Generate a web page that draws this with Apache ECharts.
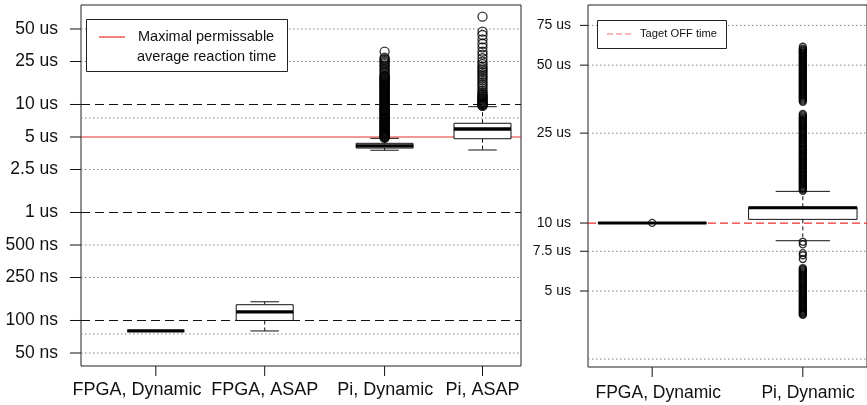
<!DOCTYPE html>
<html>
<head>
<meta charset="utf-8">
<script src="https://cdn.jsdelivr.net/npm/echarts@6/dist/echarts.min.js"></script>
<style>
  html, body { margin: 0; padding: 0; background: #fff; }
  #chart { width: 867px; height: 405px; }
</style>
</head>
<body>
<div id="chart"></div>
<script>
// Reaction times; every value is in microseconds.

// ---- Left panel: reaction time per implementation ----
const leftCategories = ['FPGA, Dynamic', 'FPGA, ASAP', 'Pi, Dynamic', 'Pi, ASAP'];
// [lower whisker, Q1, median, Q3, upper whisker]
const leftBoxes = [
  [0.080, 0.080, 0.080, 0.080, 0.080],
  [0.080, 0.100, 0.120, 0.140, 0.149],
  [3.77, 3.95, 4.13, 4.37, 4.86],
  [3.79, 4.82, 5.93, 6.70, 9.54]
];
const leftOutliers = [
  [],
  [],
  [30.8, 27.2, 26.5, 25.8, 25.0, 24.3, 23.6, 22.9, 22.2, 21.4, 20.7, 20.0, 19.3, 18.6,
   18.3, 18.0, 17.7, 17.4, 17.1, 16.8, 16.5, 16.2, 15.9, 15.6, 15.35, 15.1, 14.85, 14.6,
   14.35, 14.1, 13.85, 13.6, 13.35, 13.1, 12.85, 12.6, 12.4, 12.2, 12.0, 11.8, 11.6, 11.4,
   11.2, 11.0, 10.8, 10.6, 10.4, 10.2, 10.0, 9.8, 9.65, 9.5, 9.35, 9.2, 9.05, 8.9, 8.75,
   8.6, 8.45, 8.3, 8.15, 8.0, 7.85, 7.7, 7.55, 7.4, 7.3, 7.2, 7.05, 6.9, 6.8, 6.7, 6.6,
   6.5, 6.4, 6.3, 6.2, 6.1, 6.0, 5.9, 5.8, 5.7, 5.62, 5.55, 5.48, 5.4, 5.32, 5.25, 5.17,
   5.1, 5.04, 4.98, 4.9],
  [65.0, 47.2, 44.0, 40.0, 36.5, 33.8, 30.8, 28.9, 26.8, 24.9, 23.6, 22.4, 21.6, 20.8,
   20.0, 19.1, 18.4, 17.6, 16.9, 16.1, 15.4, 14.8, 14.1, 13.5, 13.0, 12.5, 12.25, 12.0,
   11.75, 11.5, 11.3, 11.1, 10.9, 10.7, 10.5, 10.3, 10.1, 9.95, 9.8, 9.7]
];
const leftTickValues = [50, 25, 10, 5, 2.5, 1, 0.5, 0.25, 0.1, 0.05];
const leftTickLabels = ['50 us', '25 us', '10 us', '5 us', '2.5 us', '1 us', '500 ns', '250 ns', '100 ns', '50 ns'];
const leftDashedValues = [10, 1, 0.1];
const leftDottedValues = [50, 25, 7.5, 2.5, 0.5, 0.25, 0.075, 0.05];
const maxReactionTime = 5;
const leftLegendLines = ['Maximal permissable', 'average reaction time'];

// ---- Right panel: OFF time ----
const rightCategories = ['FPGA, Dynamic', 'Pi, Dynamic'];
const rightBoxes = [
  [10.0, 10.0, 10.0, 10.0, 10.0],
  [8.35, 10.38, 11.68, 11.75, 13.81]
];
const rightOutliers = [
  [10.02],
  [60.3, 59.2, 58.6, 58.0, 57.5, 57.0, 56.5, 55.9, 55.4, 54.8, 54.3, 53.7, 53.2, 52.6,
   52.1, 51.5, 51.0, 50.5, 50.0, 49.5, 49.0, 48.5, 48.0, 47.5, 47.0, 46.5, 46.0, 45.5,
   45.1, 44.6, 44.2, 43.7, 43.3, 42.8, 42.4, 41.9, 41.5, 41.1, 40.7, 40.3, 39.9, 39.5,
   39.1, 38.7, 38.3, 37.9, 37.5, 37.1, 36.7, 36.3, 36.0, 35.6, 35.2, 34.8, 34.4,
   30.4, 30.0, 29.6, 29.2, 28.9, 28.6, 28.3, 28.0, 27.7, 27.4, 27.1, 26.8, 26.5, 26.2,
   25.9, 25.6, 25.3, 25.0, 24.8, 24.5, 24.2, 23.9, 23.7, 23.4, 23.2, 22.9, 22.7, 22.4,
   22.2, 21.9, 21.7, 21.4, 21.2, 21.0, 20.8, 20.5, 20.3, 20.1, 19.9, 19.7, 19.5, 19.3,
   19.1, 18.9, 18.7, 18.5, 18.3, 18.1, 17.9, 17.7, 17.5, 17.3, 17.1, 16.95, 16.8, 16.6,
   16.4, 16.25, 16.1, 15.9, 15.7, 15.55, 15.4, 15.25, 15.1, 14.95, 14.8, 14.65, 14.5,
   14.35, 14.2, 14.05, 13.9,
   8.26, 8.05, 7.36, 7.2, 6.93, 6.32, 6.25, 6.18, 6.11, 6.05, 5.98, 5.92, 5.85, 5.79,
   5.72, 5.66, 5.6, 5.54, 5.48, 5.42, 5.36, 5.30, 5.24, 5.18, 5.12, 5.07, 5.01, 4.96,
   4.9, 4.85, 4.79, 4.74, 4.69, 4.64, 4.59, 4.54, 4.49, 4.44, 4.39, 4.34, 4.3, 4.25,
   4.2, 4.16, 4.11, 4.07, 4.03, 3.99, 3.95, 3.92]
];
const rightTickValues = [75, 50, 25, 10, 7.5, 5];
const rightTickLabels = ['75 us', '50 us', '25 us', '10 us', '7.5 us', '5 us'];
const rightDottedValues = [75, 50, 25, 7.5, 5, 2.5];
const targetOffTime = 10;
const rightLegendText = 'Taget OFF time';

// ---- Layout and styling ----
const FONT = '"Liberation Sans", Arial, Helvetica, sans-serif';
const INK = '#111';
const RED = '#e8302b';
const DOTTED = { stroke: '#808080', lineWidth: 1, lineDash: [1.5, 2.5] };
const DASHED = { stroke: INK, lineWidth: 1.1, lineDash: [9, 5] };

const panels = [
  {
    grid: { left: 81, top: 5, width: 440, height: 361 },
    xRange: [0.5, 4.5], yRange: [0.0379, 83.4],
    slots: [1.18, 2.17, 3.26, 4.15], labelSlots: [1.01, 2.17, 3.265, 4.15],
    halfWidth: 0.259, symbolSize: 9, medianWidth: 3.3,
    yFont: 17.5, xFont: 18, tickLen: 11, labelGap: 23, xLabelDy: 24
  },
  {
    grid: { left: 588, top: 5, width: 288, height: 362 },
    xRange: [0.574, 2.426], yRange: [2.305, 92.3],
    slots: [1, 2], labelSlots: [1.04, 2.035],
    halfWidth: 0.36, symbolSize: 7, medianWidth: 3,
    yFont: 14, xFont: 17.5, tickLen: 8, labelGap: 17, xLabelDy: 26
  }
];

function axisPair(p, i) {
  return {
    x: {
      type: 'value', gridIndex: i, min: p.xRange[0], max: p.xRange[1],
      axisLine: { show: false }, axisTick: { show: false },
      axisLabel: { show: false }, splitLine: { show: false }
    },
    y: {
      type: 'log', logBase: 10, gridIndex: i, min: p.yRange[0], max: p.yRange[1],
      axisLine: { show: false }, axisTick: { show: false },
      axisLabel: { show: false }, splitLine: { show: false }
    }
  };
}

// Horizontal reference lines spanning the whole plotting area
function hLines(i, values, style, z) {
  const p = panels[i];
  return {
    type: 'custom', xAxisIndex: i, yAxisIndex: i, z, silent: true,
    data: values.map(v => [p.xRange[0], v]),
    renderItem(params, api) {
      const cs = params.coordSys;
      const y = api.coord([api.value(0), api.value(1)])[1];
      return { type: 'line', shape: { x1: cs.x, y1: y, x2: cs.x + cs.width, y2: y }, style };
    }
  };
}

// Y tick marks with their labels
function yTicks(i, values, labels) {
  const p = panels[i];
  return {
    type: 'custom', xAxisIndex: i, yAxisIndex: i, z: 6, silent: true,
    data: values.map(v => [p.xRange[0], v]),
    renderItem(params, api) {
      const cs = params.coordSys;
      const y = api.coord([api.value(0), api.value(1)])[1];
      return {
        type: 'group',
        children: [
          { type: 'line', shape: { x1: cs.x - p.tickLen, y1: y, x2: cs.x, y2: y },
            style: { stroke: INK, lineWidth: 1 } },
          { type: 'text', x: cs.x - p.labelGap, y,
            style: { text: labels[params.dataIndex], align: 'right', verticalAlign: 'middle',
                     fontSize: p.yFont, fontFamily: FONT, fill: INK } }
        ]
      };
    }
  };
}

// Category tick marks below each box and the category names
function xTicks(i, categories) {
  const p = panels[i];
  return {
    type: 'custom', xAxisIndex: i, yAxisIndex: i, z: 6, silent: true,
    data: categories.map((c, k) => [p.slots[k], p.yRange[0], p.labelSlots[k]]),
    renderItem(params, api) {
      const cs = params.coordSys;
      const bottom = cs.y + cs.height;
      const xt = api.coord([api.value(0), api.value(1)])[0];
      const xl = api.coord([api.value(2), api.value(1)])[0];
      return {
        type: 'group',
        children: [
          { type: 'line', shape: { x1: xt, y1: bottom, x2: xt, y2: bottom + 10 },
            style: { stroke: INK, lineWidth: 1 } },
          { type: 'text', x: xl, y: bottom + p.xLabelDy,
            style: { text: categories[params.dataIndex], align: 'center', verticalAlign: 'middle',
                     fontSize: p.xFont, fontFamily: FONT, fill: INK } }
        ]
      };
    }
  };
}

// Box-and-whisker marks
function boxes(i, stats) {
  const p = panels[i];
  const hw = p.halfWidth;
  return {
    type: 'custom', xAxisIndex: i, yAxisIndex: i, z: 4, silent: true,
    data: stats.map((s, k) => [p.slots[k]].concat(s)),
    renderItem(params, api) {
      const x = api.value(0);
      const lo = api.value(1), q1 = api.value(2), md = api.value(3), q3 = api.value(4), hi = api.value(5);
      const cx = api.coord([x, md])[0];
      const xl = api.coord([x - hw, md])[0];
      const xr = api.coord([x + hw, md])[0];
      const capL = api.coord([x - hw / 2, md])[0];
      const capR = api.coord([x + hw / 2, md])[0];
      const yLo = api.coord([x, lo])[1], yQ1 = api.coord([x, q1])[1];
      const yMd = api.coord([x, md])[1], yQ3 = api.coord([x, q3])[1];
      const yHi = api.coord([x, hi])[1];
      const solid = { stroke: INK, lineWidth: 1 };
      const dash = { stroke: INK, lineWidth: 1, lineDash: [4, 3] };
      return {
        type: 'group',
        children: [
          { type: 'line', shape: { x1: cx, y1: yQ3, x2: cx, y2: yHi }, style: dash },
          { type: 'line', shape: { x1: cx, y1: yQ1, x2: cx, y2: yLo }, style: dash },
          { type: 'line', shape: { x1: capL, y1: yHi, x2: capR, y2: yHi }, style: solid },
          { type: 'line', shape: { x1: capL, y1: yLo, x2: capR, y2: yLo }, style: solid },
          { type: 'rect', shape: { x: xl, y: yQ3, width: xr - xl, height: yQ1 - yQ3 },
            style: { fill: '#fff', stroke: INK, lineWidth: 1 } },
          { type: 'line', shape: { x1: xl, y1: yMd, x2: xr, y2: yMd },
            style: { stroke: '#000', lineWidth: p.medianWidth } }
        ]
      };
    }
  };
}

function outliers(i, lists) {
  const p = panels[i];
  const data = [];
  lists.forEach((vals, k) => vals.forEach(v => data.push([p.slots[k], v])));
  return {
    type: 'scatter', xAxisIndex: i, yAxisIndex: i, z: 5, silent: true,
    symbol: 'circle', symbolSize: p.symbolSize,
    itemStyle: { color: 'rgba(0,0,0,0)', borderColor: '#000', borderWidth: 1.3 },
    data
  };
}

const axes = panels.map(axisPair);

const option = {
  animation: false,
  backgroundColor: '#fff',
  grid: panels.map(p => Object.assign({ show: true, borderColor: '#222', borderWidth: 1,
                                         backgroundColor: 'transparent' }, p.grid)),
  xAxis: axes.map(a => a.x),
  yAxis: axes.map(a => a.y),
  series: [
    hLines(0, leftDottedValues, DOTTED, 1),
    hLines(0, leftDashedValues, DASHED, 1),
    hLines(0, [maxReactionTime], { stroke: RED, lineWidth: 1.2 }, 2),
    boxes(0, leftBoxes),
    outliers(0, leftOutliers),
    yTicks(0, leftTickValues, leftTickLabels),
    xTicks(0, leftCategories),

    hLines(1, rightDottedValues, DOTTED, 1),
    hLines(1, [targetOffTime], { stroke: RED, lineWidth: 1.2, lineDash: [8, 4] }, 2),
    boxes(1, rightBoxes),
    outliers(1, rightOutliers),
    yTicks(1, rightTickValues, rightTickLabels),
    xTicks(1, rightCategories)
  ],
  graphic: [
    // legend of the left panel
    { type: 'rect', z: 100, shape: { x: 86.5, y: 19.5, width: 201, height: 52 },
      style: { fill: '#fff', stroke: '#222', lineWidth: 1 } },
    { type: 'line', z: 101, shape: { x1: 99, y1: 37, x2: 125, y2: 37 },
      style: { stroke: RED, lineWidth: 1.2 } },
    { type: 'text', z: 101, x: 138, y: 37,
      style: { text: leftLegendLines[0], align: 'left', verticalAlign: 'middle',
               fontSize: 14.5, fontFamily: FONT, fill: INK } },
    { type: 'text', z: 101, x: 137, y: 57,
      style: { text: leftLegendLines[1], align: 'left', verticalAlign: 'middle',
               fontSize: 14.5, fontFamily: FONT, fill: INK } },
    // legend of the right panel
    { type: 'rect', z: 100, shape: { x: 597.5, y: 20.5, width: 129, height: 28 },
      style: { fill: '#fff', stroke: '#222', lineWidth: 1 } },
    { type: 'line', z: 101, shape: { x1: 607, y1: 34, x2: 631, y2: 34 },
      style: { stroke: '#f07070', lineWidth: 1.2, lineDash: [6, 3] } },
    { type: 'text', z: 101, x: 640, y: 34,
      style: { text: rightLegendText, align: 'left', verticalAlign: 'middle',
               fontSize: 11.2, fontFamily: FONT, fill: INK } }
  ]
};

const chart = echarts.init(document.getElementById('chart'), null, { renderer: 'canvas' });
chart.setOption(option);
</script>
</body>
</html>
